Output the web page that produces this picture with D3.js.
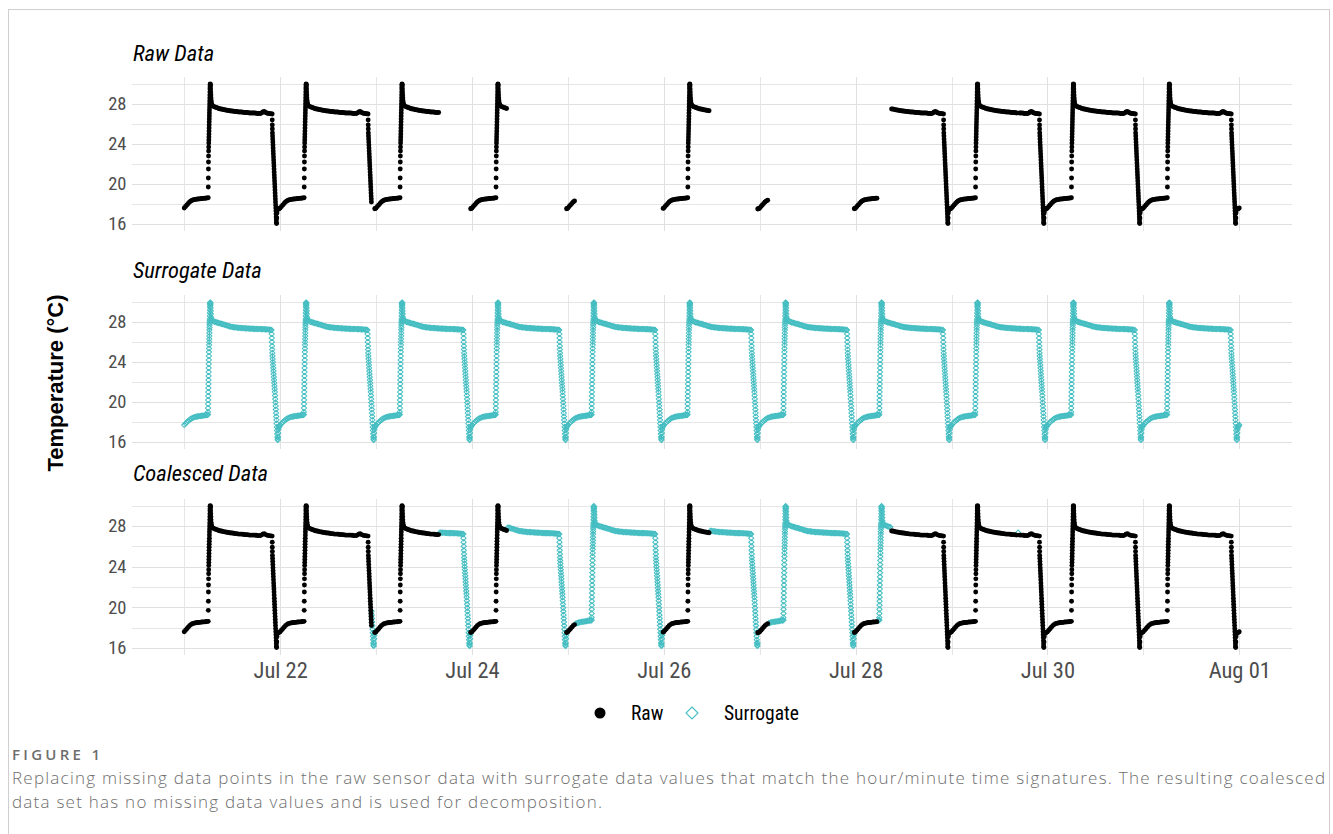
<!DOCTYPE html>
<html>
<head>
<meta charset="utf-8">
<script src="https://cdn.jsdelivr.net/npm/d3@7"></script>
<style>
  body { margin: 0; background: #fff; }
  svg { display: block; }
</style>
</head>
<body>
<svg id="chart" width="1333" height="834"></svg>
<script>
// ---------------- data ----------------
const seriesStart = "2021-07-21T00:00Z";
const dayCount = 11;

// Typical sensor day: [time of day, °C]
const rawProfile = [
  ["00:00",17.60],["00:20",17.75],["00:40",17.90],["01:00",18.05],["01:20",18.20],["01:40",18.30],
  ["02:00",18.38],["02:20",18.42],["02:40",18.45],["03:00",18.48],["03:20",18.50],["03:40",18.50],
  ["04:00",18.52],["04:20",18.55],["04:40",18.55],["05:00",18.57],["05:20",18.58],["05:40",18.60],
  ["06:00",18.62],
  ["06:01",19.70],["06:02",20.60],["06:03",21.50],["06:04",22.20],["06:05",22.80],["06:06",23.30],
  ["06:07",23.70],["06:08",24.10],["06:09",24.40],["06:10",24.70],["06:11",25.00],["06:12",25.30],
  ["06:13",25.60],["06:14",25.90],["06:15",26.20],["06:16",26.50],["06:17",26.80],["06:18",27.10],
  ["06:19",27.40],["06:20",27.70],["06:21",28.00],["06:22",28.30],["06:23",28.60],["06:24",28.90],
  ["06:25",29.20],["06:26",29.50],["06:27",29.70],["06:28",29.90],["06:30",30.00],["06:32",29.95],
  ["06:34",29.80],["06:36",29.50],["06:38",29.20],["06:40",28.90],["06:42",28.60],["06:44",28.35],
  ["06:47",28.15],["06:50",28.00],["06:55",27.90],
  ["07:00",27.85],["07:20",27.75],["07:40",27.70],["08:00",27.65],["08:20",27.60],["08:40",27.55],
  ["09:00",27.50],["09:20",27.50],["09:40",27.45],["10:00",27.42],["10:20",27.40],["10:40",27.38],
  ["11:00",27.35],["11:20",27.33],["11:40",27.30],["12:00",27.30],["12:20",27.28],["12:40",27.25],
  ["13:00",27.25],["13:20",27.22],["13:40",27.20],["14:00",27.20],["14:20",27.20],["14:40",27.18],
  ["15:00",27.15],["15:20",27.15],["15:40",27.15],["16:00",27.12],["16:20",27.10],["16:40",27.10],
  ["17:00",27.10],["17:20",27.10],["17:40",27.10],["18:00",27.08],["18:20",27.05],["18:40",27.05],
  ["19:00",27.05],["19:20",27.10],["19:40",27.20],["20:00",27.25],["20:20",27.15],["20:40",27.10],
  ["21:00",27.05],["21:20",27.05],["21:40",27.02],["22:00",27.00],
  ["22:01",26.40],["22:02",25.90],["22:03",25.50],["22:04",25.10],["22:06",24.80],["22:08",24.50],
  ["22:10",24.20],["22:12",23.90],["22:14",23.60],["22:16",23.30],["22:18",23.00],["22:20",22.70],
  ["22:22",22.40],["22:24",22.10],["22:26",21.80],["22:28",21.50],["22:30",21.20],["22:32",20.90],
  ["22:34",20.60],["22:36",20.30],["22:38",20.00],["22:40",19.70],["22:42",19.40],["22:44",19.10],
  ["22:46",18.80],["22:48",18.50],["22:50",18.20],["22:52",17.90],["22:54",17.60],["22:56",17.30],
  ["22:58",17.00],["23:00",16.70],["23:02",16.40],["23:04",16.15],["23:06",16.05],
  ["23:09",16.60],["23:12",17.10],["23:15",17.35],["23:20",17.45],["23:30",17.50],["23:40",17.52],
  ["23:50",17.56]
];

// Surrogate day: readings matched by hour/minute signature
const surrogateProfile = [
  ["00:00",17.70],["00:20",17.85],["00:40",17.98],["01:00",18.10],["01:20",18.22],["01:40",18.32],
  ["02:00",18.40],["02:20",18.45],["02:40",18.50],["03:00",18.53],["03:20",18.56],["03:40",18.58],
  ["04:00",18.60],["04:20",18.62],["04:40",18.64],["05:00",18.66],["05:20",18.68],["05:40",18.70],
  ["05:50",18.72],["05:55",18.75],
  ["05:56",19.00],["05:57",19.40],["05:58",19.80],["05:59",20.20],["06:00",20.60],["06:01",21.00],
  ["06:02",21.40],["06:03",21.80],["06:04",22.20],["06:05",22.60],["06:06",23.00],["06:07",23.40],
  ["06:08",23.80],["06:09",24.20],["06:10",24.60],["06:11",25.00],["06:12",25.35],["06:13",25.70],
  ["06:14",26.00],["06:15",26.30],["06:16",26.60],["06:17",26.90],["06:18",27.20],["06:19",27.45],
  ["06:20",27.70],["06:21",27.90],["06:22",28.10],["06:23",28.30],["06:24",28.60],["06:25",28.90],
  ["06:26",29.20],["06:27",29.50],["06:28",29.70],["06:29",29.85],["06:30",29.95],["06:32",29.90],
  ["06:34",29.70],["06:36",29.40],["06:38",29.10],["06:40",28.80],["06:42",28.50],["06:45",28.30],
  ["06:50",28.20],
  ["07:00",28.15],["07:20",28.08],["07:40",28.02],["08:00",27.97],["08:20",27.93],["08:40",27.89],
  ["09:00",27.85],["09:20",27.82],["09:40",27.78],["10:00",27.74],["10:20",27.70],["10:40",27.65],
  ["11:00",27.60],["11:20",27.57],["11:40",27.53],["12:00",27.50],["12:20",27.48],["12:40",27.47],
  ["13:00",27.45],["13:20",27.43],["13:40",27.42],["14:00",27.40],["14:20",27.40],["14:40",27.39],
  ["15:00",27.38],["15:20",27.37],["15:40",27.36],["16:00",27.35],["16:20",27.34],["16:40",27.34],
  ["17:00",27.33],["17:20",27.32],["17:40",27.31],["18:00",27.30],["18:20",27.30],["18:40",27.30],
  ["19:00",27.30],["19:20",27.29],["19:40",27.28],["20:00",27.28],["20:20",27.27],["20:40",27.26],
  ["21:00",27.25],["21:20",27.23],["21:40",27.21],["21:50",27.20],
  ["21:52",26.80],["21:54",26.40],["21:56",26.00],["21:58",25.60],["22:00",25.25],["22:02",24.90],
  ["22:04",24.60],["22:07",24.30],["22:10",24.00],["22:13",23.70],["22:16",23.40],["22:19",23.10],
  ["22:22",22.80],["22:25",22.50],["22:28",22.20],["22:31",21.90],["22:34",21.60],["22:37",21.30],
  ["22:40",21.00],["22:43",20.65],["22:46",20.30],["22:49",19.95],["22:52",19.60],["22:55",19.25],
  ["22:58",18.90],["23:01",18.55],["23:04",18.20],["23:07",17.85],["23:10",17.50],["23:13",17.15],
  ["23:16",16.80],["23:19",16.50],["23:22",16.30],["23:25",16.20],["23:28",16.50],["23:31",16.90],
  ["23:34",17.25],["23:38",17.45],["23:44",17.55],["23:52",17.62]
];

// Periods in which the sensor actually logged
const rawSpans = [
  ["2021-07-21T00:00Z","2021-07-22T22:50Z"],
  ["2021-07-22T23:40Z","2021-07-23T15:55Z"],
  ["2021-07-23T23:40Z","2021-07-24T08:45Z"],
  ["2021-07-24T23:35Z","2021-07-25T01:40Z"],
  ["2021-07-25T23:45Z","2021-07-26T11:25Z"],
  ["2021-07-26T23:30Z","2021-07-27T02:15Z"],
  ["2021-07-27T23:40Z","2021-07-28T05:30Z"],
  ["2021-07-28T08:50Z","2021-07-29T16:30Z"],
  ["2021-07-29T16:50Z","2021-08-01T00:00Z"]
];

const majorTicks = ["2021-07-22","2021-07-24","2021-07-26","2021-07-28","2021-07-30","2021-08-01"];
const minorTicks = ["2021-07-21","2021-07-23","2021-07-25","2021-07-27","2021-07-29","2021-07-31"];
const yMajorTicks = [16, 20, 24, 28];
const yMinorTicks = [18, 22, 26, 30];
const yDomain = [15.3, 30.7];
const panelTitles = ["Raw Data", "Surrogate Data", "Coalesced Data"];
const legendLabels = ["Raw", "Surrogate"];
const yTitle = "Temperature (°C)";
const captionHead = "FIGURE 1";
const captionLines = [
  "Replacing missing data points in the raw sensor data with surrogate data values that match the hour/minute time signatures. The resulting coalesced",
  "data set has no missing data values and is used for decomposition."
];

// ---------------- build series ----------------
const DAY = 864e5, MIN = 6e4;
const t0 = d3.isoParse(seriesStart).getTime();
const hm = s => { const [h, m] = s.split(":").map(Number); return h * 60 + m; };

function expand(profile) {
  const pts = [];
  for (let d = 0; d < dayCount; d++) {
    for (const [tod, v] of profile) pts.push({ t: new Date(t0 + d * DAY + hm(tod) * MIN), v });
  }
  pts.push({ t: new Date(t0 + dayCount * DAY), v: profile[0][1] });
  return pts;
}
const spans = rawSpans.map(([a, b]) => [d3.isoParse(a).getTime(), d3.isoParse(b).getTime()]);
const logged = p => spans.some(([a, b]) => p.t.getTime() >= a && p.t.getTime() <= b);

const rawPts = expand(rawProfile).filter(logged).map(p => ({ ...p, kind: "raw" }));
const surPts = expand(surrogateProfile).map(p => ({ ...p, kind: "sur" }));
const coalesced = surPts.filter(p => !logged(p)).concat(rawPts).sort((a, b) => a.t - b.t);

// ---------------- layout ----------------
const TEAL = "#45BEC2";
const GRID = "#e0e0e0";
const TEXT_GRAY = "#4d4d4d";
const svg = d3.select("#chart");

const x = d3.scaleUtc()
  .domain([new Date(t0 - 0.55 * DAY), new Date(t0 + (dayCount + 0.55) * DAY)])
  .range([131.5, 1292]);

const panels = [
  { title: panelTitles[0], y0: 231, y1: 77, titleY: 61, data: rawPts },
  { title: panelTitles[1], y0: 449, y1: 295, titleY: 278, data: surPts },
  { title: panelTitles[2], y0: 655.1, y1: 498.5, titleY: 481, data: coalesced }
];

// outer frame
svg.append("rect").attr("x", 8.5).attr("y", 9.5).attr("width", 1321).attr("height", 840)
  .attr("fill", "none").attr("stroke", "#cfcfcf").attr("stroke-width", 1);

const diamond = s => `M0,${-s}L${s},0L0,${s}L${-s},0Z`;
const tickFont = '"Roboto Condensed","Liberation Sans Narrow","Arial Narrow",Roboto,sans-serif';

panels.forEach((pn, i) => {
  const y = d3.scaleLinear().domain(yDomain).range([pn.y0, pn.y1]);
  const g = svg.append("g");

  // grid
  const grid = g.append("g").attr("shape-rendering", "crispEdges");
  grid.selectAll(".hmin").data(yMinorTicks).join("line")
    .attr("x1", x.range()[0]).attr("x2", x.range()[1])
    .attr("y1", d => Math.round(y(d)) + 0.5).attr("y2", d => Math.round(y(d)) + 0.5)
    .attr("stroke", GRID).attr("stroke-width", 0.8);
  grid.selectAll(".hmaj").data(yMajorTicks).join("line")
    .attr("x1", x.range()[0]).attr("x2", x.range()[1])
    .attr("y1", d => Math.round(y(d)) + 0.5).attr("y2", d => Math.round(y(d)) + 0.5)
    .attr("stroke", GRID).attr("stroke-width", 1);
  grid.selectAll(".vmin").data(minorTicks.map(d3.isoParse)).join("line")
    .attr("x1", d => Math.round(x(d)) + 0.5).attr("x2", d => Math.round(x(d)) + 0.5)
    .attr("y1", pn.y0).attr("y2", pn.y1)
    .attr("stroke", GRID).attr("stroke-width", 0.8);
  grid.selectAll(".vmaj").data(majorTicks.map(d3.isoParse)).join("line")
    .attr("x1", d => Math.round(x(d)) + 0.5).attr("x2", d => Math.round(x(d)) + 0.5)
    .attr("y1", pn.y0).attr("y2", pn.y1)
    .attr("stroke", GRID).attr("stroke-width", 1);

  // y axis labels
  const ya = g.append("g").attr("transform", `translate(${x.range()[0]},0)`)
    .call(d3.axisLeft(y).tickValues(yMajorTicks).tickSize(0).tickPadding(5));
  ya.select(".domain").remove();
  ya.selectAll("text").attr("font-family", tickFont).attr("font-size", 18.5).attr("fill", TEXT_GRAY);

  // title
  g.append("text").attr("x", 133).attr("y", pn.titleY).text(pn.title)
    .attr("font-family", tickFont).attr("font-style", "italic").attr("font-size", 22.5).attr("fill", "#000");

  // marks
  const marks = g.append("g");
  const sur = pn.data.filter(d => d.kind === "sur");
  const raw = pn.data.filter(d => d.kind === "raw");
  marks.selectAll("path.sur").data(sur).join("path")
    .attr("class", "sur")
    .attr("d", diamond(2.6))
    .attr("transform", d => `translate(${x(d.t)},${y(d.v)})`)
    .attr("fill", "none").attr("stroke", TEAL).attr("stroke-width", 1.05);
  marks.selectAll("circle.raw").data(raw).join("circle")
    .attr("class", "raw")
    .attr("cx", d => x(d.t)).attr("cy", d => y(d.v)).attr("r", 2.45)
    .attr("fill", "#000");

  // x axis only under the last panel
  if (i === panels.length - 1) {
    const xa = g.append("g").attr("transform", `translate(0,${pn.y0})`)
      .call(d3.axisBottom(x).tickValues(majorTicks.map(d3.isoParse))
        .tickFormat(d3.utcFormat("%b %d")).tickSize(0).tickPadding(6.5));
    xa.select(".domain").remove();
    xa.selectAll("text").attr("font-family", tickFont).attr("font-size", 22.5).attr("fill", TEXT_GRAY);
  }
});

// y title
svg.append("text")
  .attr("transform", "translate(55,383) rotate(-90)")
  .attr("text-anchor", "middle").attr("dominant-baseline", "central")
  .attr("font-family", '"Liberation Sans",Arial,sans-serif').attr("font-weight", "bold")
  .attr("font-size", 22).attr("fill", "#000")
  .text(yTitle);

// legend
const lg = svg.append("g").attr("transform", "translate(0,713)");
lg.append("circle").attr("cx", 600).attr("cy", 0).attr("r", 5.5).attr("fill", "#000");
lg.append("text").attr("x", 631).attr("y", 0).attr("dy", "0.35em").text(legendLabels[0])
  .attr("font-family", tickFont).attr("font-size", 19.5).attr("fill", "#000");
lg.append("path").attr("d", diamond(6)).attr("transform", "translate(692,0)")
  .attr("fill", "none").attr("stroke", TEAL).attr("stroke-width", 1.1);
lg.append("text").attr("x", 724).attr("y", 0).attr("dy", "0.35em").text(legendLabels[1])
  .attr("font-family", tickFont).attr("font-size", 19.5).attr("fill", "#000");

// caption: first line spread to the frame width by letter spacing
const capFont = '"Open Sans","Noto Sans",sans-serif';
const CAP_GRAY = "#6e6e6e";
const CAP_SIZE = 17;
svg.append("text").attr("x", 12).attr("y", 760).text(captionHead)
  .attr("font-family", capFont).attr("font-size", 15).attr("font-weight", 600)
  .attr("textLength", 88).attr("lengthAdjust", "spacing").attr("fill", CAP_GRAY);
const capTexts = captionLines.map((line, i) =>
  svg.append("text").attr("x", 12).attr("y", 784 + i * 24).text(line)
    .attr("font-family", capFont).attr("font-size", CAP_SIZE).attr("font-weight", 300).attr("fill", CAP_GRAY));
const w0 = capTexts[0].node().getComputedTextLength();
const spacing = (1313 - w0) / (captionLines[0].length - 1);
capTexts.forEach(t => t.attr("letter-spacing", spacing.toFixed(3)));
</script>
</body>
</html>
